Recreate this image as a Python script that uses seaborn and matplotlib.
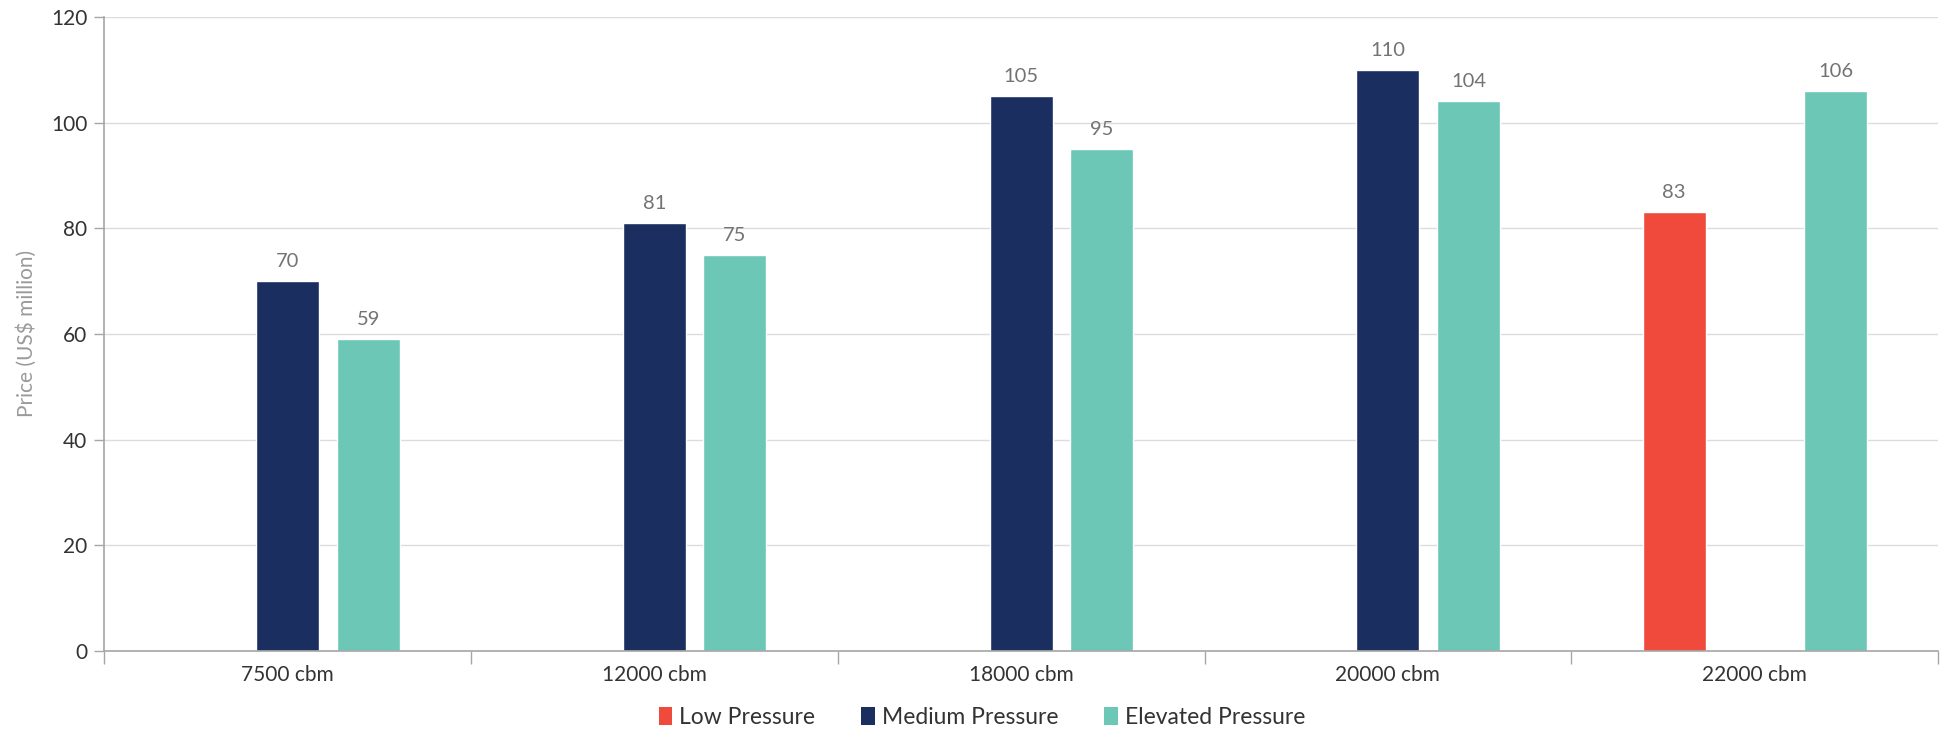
import numpy as np
import pandas as pd
import matplotlib
matplotlib.use("Agg")
import matplotlib.pyplot as plt
import seaborn as sns
from matplotlib.ticker import FixedLocator
from matplotlib.patches import Patch

categories = ["7500 cbm", "12000 cbm", "18000 cbm", "20000 cbm", "22000 cbm"]
series_names = ["Low Pressure", "Medium Pressure", "Elevated Pressure"]
low_pressure = [np.nan, np.nan, np.nan, np.nan, 83]
medium_pressure = [70, 81, 105, 110, np.nan]
elevated_pressure = [59, 75, 95, 104, 106]
colors = ["#EF4A3C", "#1A2E5F", "#6CC7B7"]
y_ticks = [0, 20, 40, 60, 80, 100, 120]

rows = []
for name, vals in zip(series_names, [low_pressure, medium_pressure, elevated_pressure]):
    for c, v in zip(categories, vals):
        if not np.isnan(v):
            rows.append({"Size": c, "Series": name, "Price": v})
df = pd.DataFrame(rows)

sns.set_theme(style="white")
plt.rcParams["font.family"] = ["Lato", "DejaVu Sans"]

fig = plt.figure(figsize=(19.44, 7.33), dpi=100)
ax = fig.add_axes([0.0535, 0.112, 0.9435, 0.865])

sns.barplot(data=df, x="Size", y="Price", hue="Series", order=categories,
            hue_order=series_names, palette=colors, estimator="sum",
            errorbar=None, width=0.66, gap=0.22, ax=ax, legend=False, saturation=1)

for cont in ax.containers:
    ax.bar_label(cont, fmt="%g", padding=8, fontsize=14.5, color="#737373")

ax.set_ylim(0, 120)
ax.set_xlim(-0.5, 4.5)
ax.set_yticks(y_ticks)
ax.tick_params(axis="y", labelsize=15, colors="#a6a6a6", labelcolor="#333333",
               length=7, width=1, direction="out", left=True, pad=5)
ax.tick_params(axis="x", which="major", length=0, labelsize=15, labelcolor="#333333", pad=10)
ax.xaxis.set_minor_locator(FixedLocator(np.arange(-0.5, 5, 1.0)))
ax.tick_params(axis="x", which="minor", length=9, width=1, color="#a6a6a6",
               direction="out", bottom=True)
ax.grid(axis="y", color="#dcdcdc", linewidth=1)
ax.set_axisbelow(True)
for s in ["top", "right"]:
    ax.spines[s].set_visible(False)
for s in ["left", "bottom"]:
    ax.spines[s].set_color("#a6a6a6")
    ax.spines[s].set_linewidth(1.2)
ax.set_xlabel("")
ax.set_ylabel("Price (US$ million)", fontsize=15, color="#9a9a9a", labelpad=10)

handles = [Patch(facecolor=c, edgecolor="none") for c in colors]
fig.legend(handles, series_names, loc="center", bbox_to_anchor=(0.505, 0.021), ncol=3,
           frameon=False, fontsize=16.5, handlelength=0.6, handleheight=0.8,
           handletextpad=0.3, columnspacing=2.0, labelcolor="#333333")

fig.savefig("out.png", dpi=100)
